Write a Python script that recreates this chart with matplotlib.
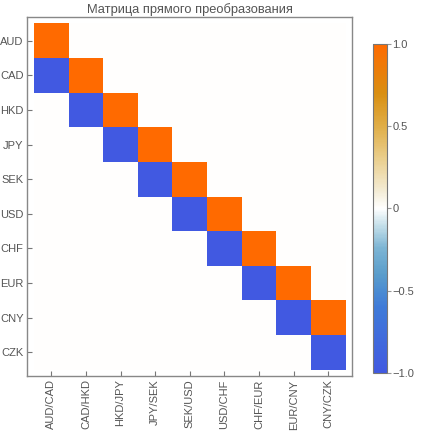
import matplotlib
matplotlib.use("Agg")
import matplotlib.pyplot as plt
import numpy as np
from matplotlib.colors import LinearSegmentedColormap

plt.rcParams['font.family'] = ['Liberation Sans', 'DejaVu Sans']

title = "Матрица прямого преобразования"
rows = ["AUD", "CAD", "HKD", "JPY", "SEK", "USD", "CHF", "EUR", "CNY", "CZK"]
cols = ["AUD/CAD", "CAD/HKD", "HKD/JPY", "JPY/SEK", "SEK/USD",
        "USD/CHF", "CHF/EUR", "EUR/CNY", "CNY/CZK"]
values = [
    [1, 0, 0, 0, 0, 0, 0, 0, 0],
    [-1, 1, 0, 0, 0, 0, 0, 0, 0],
    [0, -1, 1, 0, 0, 0, 0, 0, 0],
    [0, 0, -1, 1, 0, 0, 0, 0, 0],
    [0, 0, 0, -1, 1, 0, 0, 0, 0],
    [0, 0, 0, 0, -1, 1, 0, 0, 0],
    [0, 0, 0, 0, 0, -1, 1, 0, 0],
    [0, 0, 0, 0, 0, 0, -1, 1, 0],
    [0, 0, 0, 0, 0, 0, 0, -1, 1],
    [0, 0, 0, 0, 0, 0, 0, 0, -1],
]
cbar_ticks = [-1.0, -0.5, 0, 0.5, 1.0]
cbar_labels = ["\u22121.0", "\u22120.5", "0", "0.5", "1.0"]

cmap = LinearSegmentedColormap.from_list("tm", [
    (0.0, "#4159E1"),
    (0.2, "#3F7BD8"),
    (0.25, "#4B8CD2"),
    (0.3, "#5A9DCB"),
    (0.38, "#7DB5D4"),
    (0.45, "#C6E0EA"),
    (0.5, "#FFFFFF"),
    (0.55, "#F4EDD8"),
    (0.65, "#EACF8E"),
    (0.75, "#E0AE48"),
    (0.85, "#D98F12"),
    (1.0, "#FF6A00"),
])

fig = plt.figure(figsize=(4.21, 4.34), dpi=100)
ax = fig.add_axes([0.0641, 0.1336, 0.7719, 0.8272])
data = np.array(values, dtype=float)
mesh = ax.pcolormesh(np.arange(len(cols) + 1), np.arange(len(rows) + 1), data,
                     cmap=cmap, vmin=-1, vmax=1)
pad = 0.18
ax.set_xlim(-pad - 0.02, len(cols) + pad)
ax.set_ylim(len(rows) + pad, -pad)

gray = "#555555"
ax.set_xticks(np.arange(len(cols)) + 0.5)
ax.set_xticklabels(cols, rotation=90)
ax.set_yticks(np.arange(len(rows)) + 0.5)
ax.set_yticklabels(rows)
ax.tick_params(direction="in", length=3.5, width=0.8, color="#777777",
               labelcolor=gray, labelsize=8, pad=2.5)
for s in ax.spines.values():
    s.set_color("#888888")
    s.set_linewidth(1.0)
ax.set_title(title, fontsize=9.3, color=gray, pad=3)

cax = fig.add_axes([0.886, 0.1406, 0.033, 0.758])
cb = fig.colorbar(mesh, cax=cax, ticks=cbar_ticks)
cb.ax.set_yticklabels(cbar_labels)
cb.ax.tick_params(direction="out", length=3, width=0.8, color="#999999",
                  labelcolor=gray, labelsize=8, pad=1)
cb.outline.set_edgecolor("#777777")
cb.outline.set_linewidth(0.8)

fig.savefig("out.png", dpi=100)
